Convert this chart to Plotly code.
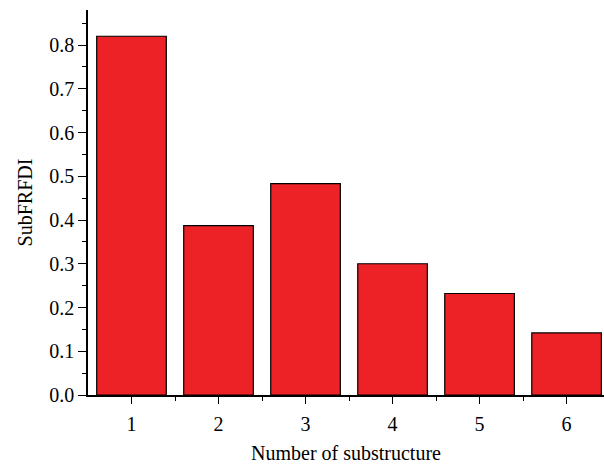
import plotly.graph_objects as go

# Substructure index and its SubFRFDI value
substructures = [1, 2, 3, 4, 5, 6]
subfrfdi = [0.82, 0.387, 0.483, 0.30, 0.232, 0.142]
y_ticks = [0.0, 0.1, 0.2, 0.3, 0.4, 0.5, 0.6, 0.7, 0.8]

FONT = "Liberation Serif"
SIZE = 20

fig = go.Figure(
    go.Bar(
        x=substructures,
        y=subfrfdi,
        width=0.8,
        marker=dict(color="#ED2226", line=dict(color="black", width=1.2)),
    )
)

fig.update_layout(
    width=604,
    height=464,
    margin=dict(l=88, r=0, t=10, b=69),
    plot_bgcolor="white",
    paper_bgcolor="white",
    showlegend=False,
    font=dict(family=FONT, size=SIZE, color="black"),
)

fig.update_xaxes(
    range=[0.5, 6.43],
    tickmode="array",
    tickvals=substructures,
    ticktext=[str(s) for s in substructures],
    ticks="outside",
    ticklen=7,
    tickwidth=1.2,
    tickcolor="black",
    ticklabelstandoff=3,
    minor=dict(tickmode="array", tickvals=[1.5, 2.5, 3.5, 4.5, 5.5], ticks="outside", ticklen=4, tickwidth=1.2, tickcolor="black"),
    showline=True,
    linecolor="black",
    linewidth=1.5,
    showgrid=False,
    zeroline=False,
    title=dict(text="Number of substructure", font=dict(family=FONT, size=SIZE), standoff=14),
    tickfont=dict(family=FONT, size=SIZE),
)

fig.update_yaxes(
    range=[0, 0.88],
    tickmode="array",
    tickvals=y_ticks,
    ticktext=[f"{v:.1f}" for v in y_ticks],
    ticks="outside",
    ticklen=8,
    tickwidth=1.2,
    tickcolor="black",
    minor=dict(tickmode="array", tickvals=[0.05, 0.15, 0.25, 0.35, 0.45, 0.55, 0.65, 0.75, 0.85], ticks="outside", ticklen=4, tickwidth=1.2, tickcolor="black"),
    showline=True,
    linecolor="black",
    linewidth=1.5,
    showgrid=False,
    zeroline=False,
    title=dict(text="SubFRFDI", font=dict(family=FONT, size=SIZE), standoff=11),
    tickfont=dict(family=FONT, size=SIZE),
)

fig.write_html("out.html")
